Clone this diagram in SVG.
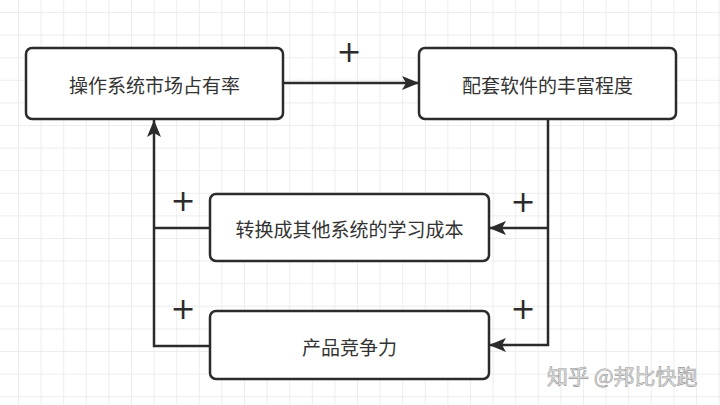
<svg xmlns="http://www.w3.org/2000/svg" width="720" height="405" viewBox="0 0 720 405">
  <defs>
    <pattern id="grid" x="18" y="12" width="22.6" height="22.6" patternUnits="userSpaceOnUse">
      <path d="M0 0 H22.6 M0 0 V22.6" fill="none" stroke="#e8e8e8" stroke-width="1.5"/>
    </pattern>
    <marker id="arr" viewBox="0 0 17 14" refX="17" refY="7" markerWidth="17" markerHeight="14" markerUnits="userSpaceOnUse" orient="auto">
      <path d="M0 0 L17 7 L0 14 L4 7 Z" fill="#2b2b2b"/>
    </marker>
    <style>
      .box { fill: #ffffff; stroke: #2b2b2b; stroke-width: 2.5; }
      .lbl { font-family: "Noto Sans CJK SC", "Noto Sans", sans-serif; font-size: 19px; fill: #333333; text-anchor: middle; dominant-baseline: central; }
      .plus { font-family: "DejaVu Sans", "Liberation Sans", sans-serif; font-size: 30px; fill: #2b2b2b; text-anchor: middle; dominant-baseline: central; }
      .edge { fill: none; stroke: #2b2b2b; stroke-width: 2.5; }
      .wm { font-family: "Noto Sans CJK SC", "Noto Sans", sans-serif; font-size: 21px; fill: #e6e6e6; stroke: #9a9a9a; stroke-width: 0.6; }
    </style>
  </defs>
  <rect width="720" height="405" fill="#ffffff"/>
  <rect width="720" height="405" fill="url(#grid)"/>

  <g id="connectors">
    <path class="edge" d="M283 83 H419" marker-end="url(#arr)"/>
    <path class="edge" d="M548 120 V345 H489" marker-end="url(#arr)"/>
    <path class="edge" d="M548 228 H489" marker-end="url(#arr)"/>
    <path class="edge" d="M210 346 H154 V120" marker-end="url(#arr)"/>
    <path class="edge" d="M210 228 H154"/>
    <text class="plus" x="349" y="51">+</text>
    <text class="plus" x="523" y="201">+</text>
    <text class="plus" x="523" y="308">+</text>
    <text class="plus" x="183" y="200">+</text>
    <text class="plus" x="183" y="308">+</text>
  </g>

  <g id="node-market-share">
    <rect class="box" x="26" y="48" width="257" height="71" rx="6"/>
    <text class="lbl" x="154.5" y="84">操作系统市场占有率</text>
  </g>
  <g id="node-software">
    <rect class="box" x="419" y="48" width="257" height="71" rx="6"/>
    <text class="lbl" x="547.5" y="84">配套软件的丰富程度</text>
  </g>
  <g id="node-switch-cost">
    <rect class="box" x="210" y="194" width="279" height="67" rx="6"/>
    <text class="lbl" x="349.5" y="228">转换成其他系统的学习成本</text>
  </g>
  <g id="node-competitiveness">
    <rect class="box" x="210" y="311" width="279" height="68" rx="6"/>
    <text class="lbl" x="349.5" y="346">产品竞争力</text>
  </g>

  <text class="wm" x="547" y="384">知乎 @邦比快跑</text>
</svg>
